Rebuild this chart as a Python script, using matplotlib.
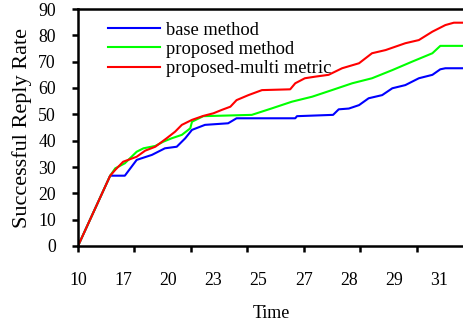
import matplotlib
matplotlib.use('Agg')
import matplotlib.pyplot as plt

plt.rcParams['font.family'] = ['Liberation Serif', 'DejaVu Serif']

# sample index (axis units) and rates
x_base = [0, 5.7, 8.3, 10.4, 13.1, 15.4, 17.5, 19.0, 20.2, 22.5, 26.6, 28.1, 38.5, 38.8,
          45.2, 46.2, 48.0, 49.8, 51.5, 53.9, 55.7, 58.0, 60.4, 62.8, 64.2, 65.1, 68.1]
y_base = [0, 26.7, 26.7, 32.7, 34.6, 37.1, 37.7, 40.9, 44.1, 46.0, 46.6, 48.5, 48.5, 49.3,
          49.8, 51.9, 52.2, 53.5, 56.1, 57.3, 59.9, 61.1, 63.7, 65.0, 67.1, 67.5, 67.5]

x_prop = [0, 5.7, 6.6, 8.3, 10.4, 11.6, 13.7, 15.1, 16.6, 18.4, 19.9, 20.2, 22.2, 30.8,
          34.4, 37.9, 41.5, 45.0, 48.6, 52.1, 55.7, 59.2, 62.8, 64.2, 68.1]
y_prop = [0, 26.7, 29.5, 31.4, 35.8, 37.1, 38.0, 39.6, 40.9, 42.2, 44.7, 47.2, 49.3, 49.8,
          52.3, 54.8, 56.7, 59.2, 61.8, 63.7, 66.8, 70.0, 73.2, 76.0, 76.0]

x_multi = [0, 5.7, 6.6, 8.0, 10.4, 11.9, 13.7, 15.7, 17.2, 18.4, 20.2, 22.2, 24.0, 25.5,
           27.0, 28.1, 30.2, 32.6, 37.6, 38.5, 40.2, 42.0, 44.4, 46.8, 49.8, 52.1, 54.5,
           58.0, 60.4, 62.8, 65.1, 66.6, 68.1]
y_multi = [0, 26.7, 28.9, 32.0, 33.9, 36.2, 37.7, 40.9, 43.4, 46.0, 47.9, 49.4, 50.4, 51.7,
           52.9, 55.4, 57.3, 59.2, 59.5, 61.8, 63.7, 64.3, 65.0, 67.5, 69.4, 73.2, 74.4,
           77.0, 78.2, 81.4, 83.9, 84.8, 84.8]

time_labels = ['10', '17', '20', '23', '25', '27', '28', '29', '31']
label_pos = [0, 8, 16, 24, 32, 40, 48, 56, 64]

fig = plt.figure(figsize=(4.64, 3.22), dpi=100)
ax = fig.add_axes([78 / 464, 76 / 322, 386 / 464, 237 / 322])

ax.plot(x_base, y_base, color='#0000ff', lw=1.5, label='base method')
ax.plot(x_prop, y_prop, color='#00ff00', lw=1.5, label='proposed method')
ax.plot(x_multi, y_multi, color='#ff0000', lw=1.5, label='proposed-multi metric')

ax.set_xlim(0, 68.4)
ax.set_ylim(0, 90)
ax.set_yticks(range(0, 91, 10))
ax.set_xticks(range(0, 70, 10))
ax.set_xticklabels([])
ax.xaxis.remove_overlapping_locs = False
ax.set_xticks(label_pos, minor=True)
ax.set_xticklabels(time_labels, minor=True)
ax.tick_params(axis='x', which='minor', length=0, pad=19, labelsize=12.8)
ax.tick_params(axis='x', which='major', direction='out', length=4, width=1.8)
ax.tick_params(axis='y', direction='out', length=4, width=1.8, labelsize=12.8, pad=12)

for s in ['left', 'bottom', 'top']:
    ax.spines[s].set_linewidth(1.8)
ax.spines['right'].set_visible(False)

ax.set_xlabel('Time', fontsize=13, labelpad=11)
ax.set_ylabel('Successful Reply Rate', fontsize=16, labelpad=4)

ax.legend(loc='upper left', bbox_to_anchor=(0.058, 0.978), frameon=False, fontsize=13.3,
          handlelength=2.85, handletextpad=0.3, labelspacing=0.12, borderaxespad=0)

fig.savefig('out.png', dpi=100)
